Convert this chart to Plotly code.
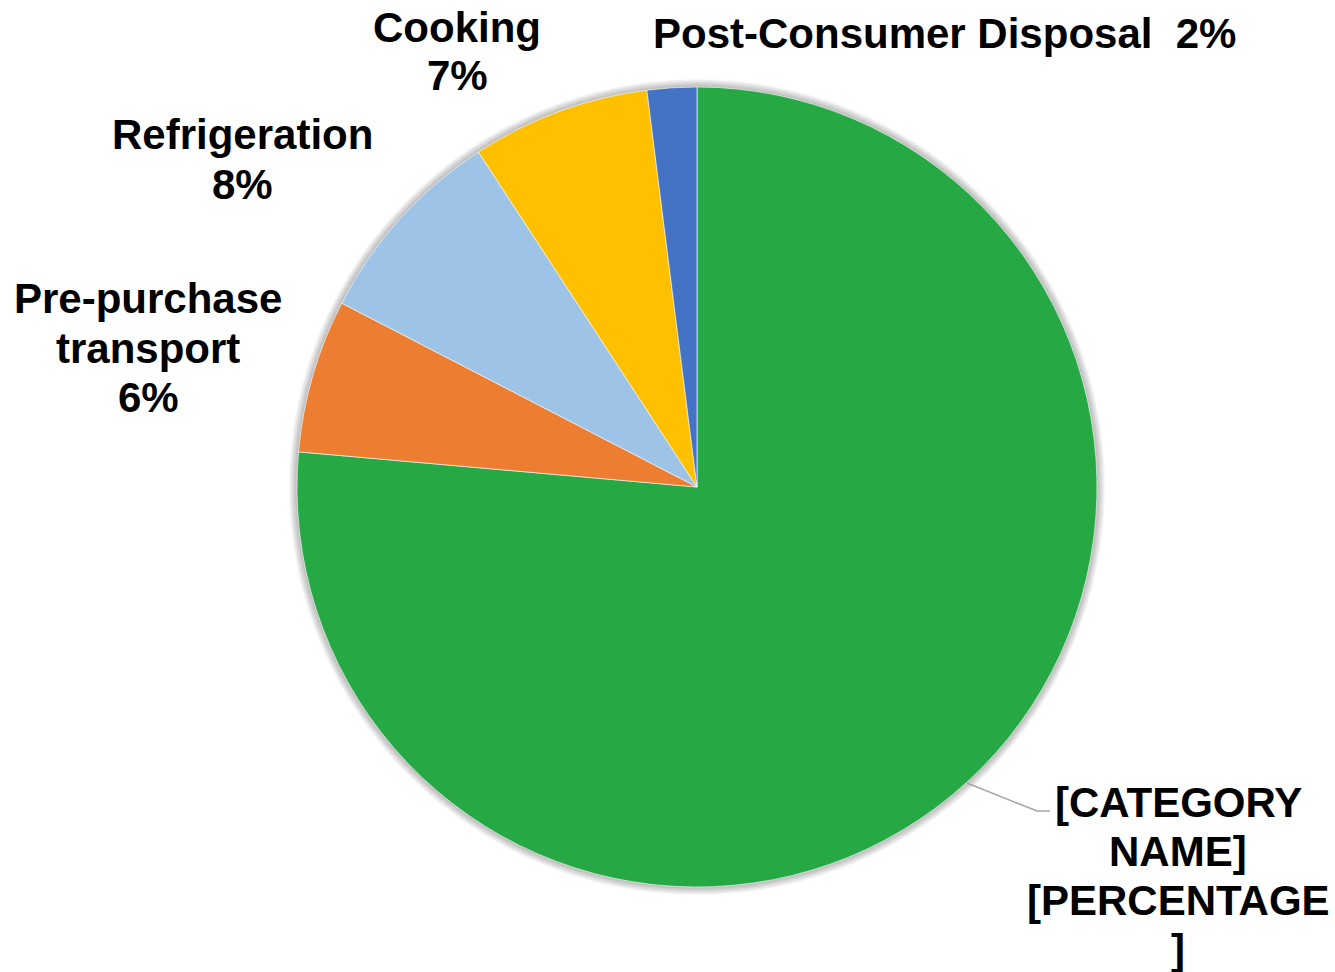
import plotly.graph_objects as go

# slices, clockwise from 12 o'clock
categories = ["[CATEGORY NAME]", "Pre-purchase transport", "Refrigeration", "Cooking",
              "Post-Consumer Disposal"]
shares = [76.4, 6.2, 8.2, 7.2, 2.0]
slice_colors = ["#26A844", "#ED7D31", "#9DC3E6", "#FFC000", "#4472C4"]

# label text lines, as shown next to the pie
label_lines = {
    "[CATEGORY NAME]": ["[CATEGORY", "NAME]", "[PERCENTAGE", "]"],
    "Pre-purchase transport": ["Pre-purchase", "transport", "6%"],
    "Refrigeration": ["Refrigeration", "8%"],
    "Cooking": ["Cooking", "7%"],
    "Post-Consumer Disposal": ["Post-Consumer Disposal\u00a0\u00a02%"],
}

W, H = 1335, 972
CX, CY, R = 697, 487, 400

# label anchor: centre x, first line centre y (pixels), line step
label_pos = {
    "[CATEGORY NAME]": (1178, 802),
    "Pre-purchase transport": (148, 299),
    "Refrigeration": (242, 135),
    "Cooking": (457, 27),
    "Post-Consumer Disposal": (945, 33),
}
LINE_STEP = 49
FONT = dict(family="Liberation Sans, Arial, sans-serif", size=42, color="#000000")

fig = go.Figure(go.Pie(
    labels=categories,
    values=shares,
    sort=False,
    direction="clockwise",
    rotation=0,
    marker=dict(colors=slice_colors, line=dict(color="rgba(255,255,255,0.6)", width=1)),
    textinfo="none",
    hoverinfo="label+percent",
    domain=dict(x=[(CX - R) / W, (CX + R) / W], y=[(H - CY - R) / H, (H - CY + R) / H]),
    showlegend=False,
))

# soft shadow round the pie
shapes = []
for i in range(1, 9):
    r = R + i
    shapes.append(dict(
        type="circle", xref="paper", yref="paper", layer="below",
        x0=(CX - r) / W, x1=(CX + r) / W,
        y0=(H - CY - r) / H, y1=(H - CY + r) / H,
        fillcolor="rgba(0,0,0,0.035)", line=dict(width=0),
    ))

# leader line for the placeholder label
shapes.append(dict(
    type="path", xref="paper", yref="paper",
    path="M {:.4f},{:.4f} L {:.4f},{:.4f} L {:.4f},{:.4f}".format(
        967 / W, 1 - 783 / H, 1037 / W, 1 - 811 / H, 1050 / W, 1 - 811 / H),
    line=dict(color="#A6A6A6", width=1.5),
))

annotations = []
for cat in categories:
    x, y = label_pos[cat]
    for k, line in enumerate(label_lines[cat]):
        annotations.append(dict(
            text="<b>" + line + "</b>", x=x / W, y=1 - (y + k * LINE_STEP) / H,
            xref="paper", yref="paper", xanchor="center", yanchor="middle",
            showarrow=False, font=FONT,
        ))

fig.update_layout(
    width=W, height=H,
    margin=dict(l=0, r=0, t=0, b=0),
    paper_bgcolor="white", plot_bgcolor="white",
    shapes=shapes, annotations=annotations,
)

# drop the page's default body margin so the figure sits at the window corner
fig.write_html("out.html", config={"displayModeBar": False},
               post_script="document.body.style.margin='0';")
